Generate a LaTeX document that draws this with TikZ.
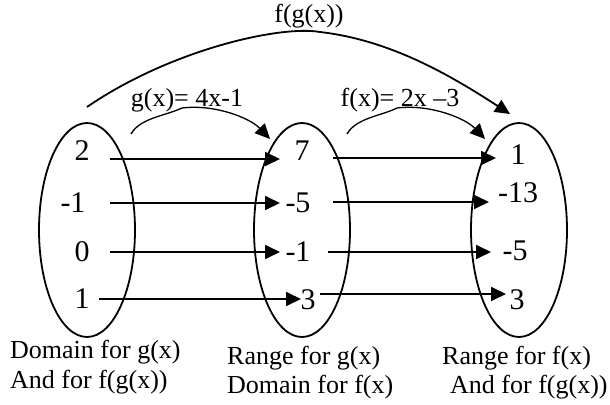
\documentclass[tikz,border=0pt]{standalone}
\usepackage{fontspec}
\setmainfont{Liberation Serif}
\usetikzlibrary{arrows.meta,shapes.geometric}
\begin{document}
\begin{tikzpicture}[x=1pt,y=-1pt,
  set/.style={draw,ellipse,line width=1.8pt,minimum width=96pt,minimum height=214pt,inner sep=0pt},
  num/.style={font=\fontsize{30}{32}\selectfont,inner sep=0pt},
  lbl/.style={font=\fontsize{26}{30}\selectfont,inner sep=0pt},
  conn/.style={line width=1.8pt,-{Triangle[length=15pt,width=14pt]}}]
\useasboundingbox (0,0) rectangle (610,404);
% sets
\node[set] (L) at (87,230) {};
\node[set] (M) at (302,230) {};
\node[set] (R) at (519,230) {};
% numbers
\node[num] (l1) at (82,151) {2};
\node[num] (l2) at (73,203) {-1};
\node[num] (l3) at (82,252) {0};
\node[num] (l4) at (82,299) {1};
\node[num] (m1) at (302,151) {7};
\node[num] (m2) at (298,203) {-5};
\node[num] (m3) at (298,252) {-1};
\node[num] (m4) at (308,300) {3};
\node[num] (r1) at (518,155) {1};
\node[num] (r2) at (518,193) {-13};
\node[num] (r3) at (515,251) {-5};
\node[num] (r4) at (517,300) {3};
% arrow ends
\coordinate (a1s) at (110,159); \coordinate (a1e) at (280,159);
\coordinate (a2s) at (110,203); \coordinate (a2e) at (280,203);
\coordinate (a3s) at (110,252); \coordinate (a3e) at (280,252);
\coordinate (a4s) at (99,299);  \coordinate (a4e) at (301,299);
\coordinate (b1s) at (333,158); \coordinate (b1e) at (496,158);
\coordinate (b2s) at (333,202); \coordinate (b2e) at (489,202);
\coordinate (b3s) at (328,252); \coordinate (b3e) at (491,252);
\coordinate (b4s) at (320,294); \coordinate (b4e) at (506,294);
\foreach \s/\e in {a1s/a1e,a2s/a2e,a3s/a3e,a4s/a4e,b1s/b1e,b2s/b2e,b3s/b3e,b4s/b4e}
  \draw[conn] (\s) -- (\e);
% function labels
\node[lbl] (g) at (187,100) {g(x)= 4x-1};
\node[lbl] (f) at (400,100) {f(x)= 2x \textendash3};
\node[lbl] (fg) at (309,16) {f(g(x))};
% curved arrows
\coordinate (gs) at (131,134); \coordinate (gm) at (182,108); \coordinate (ge) at (270,139);
\draw[conn,line width=1.3pt] (gs) .. controls (140,118) and (165,116) .. (gm)
  .. controls (215,104) and (250,118) .. (ge);
\coordinate (fs) at (347,134); \coordinate (fm) at (397,108); \coordinate (fe) at (485,139);
\draw[conn,line width=1.3pt] (fs) .. controls (356,118) and (381,116) .. (fm)
  .. controls (430,104) and (465,118) .. (fe);
\coordinate (hs) at (87,107); \coordinate (he) at (510,114);
\draw[conn] (hs) .. controls (170,50) and (280,25) .. (320,32)
  .. controls (390,40) and (450,75) .. (he);
% bottom labels
\node[lbl,anchor=west] (d1) at (10,352) {Domain for g(x)};
\node[lbl,anchor=west] (d2) at (10,382) {And for f(g(x))};
\node[lbl,anchor=west] (d3) at (227,358) {Range for g(x)};
\node[lbl,anchor=west] (d4) at (227,387) {Domain for f(x)};
\node[lbl,anchor=west] (d5) at (442,358) {Range for f(x)};
\node[lbl,anchor=west] (d6) at (450,387) {And for f(g(x))};
\end{tikzpicture}
\end{document}
